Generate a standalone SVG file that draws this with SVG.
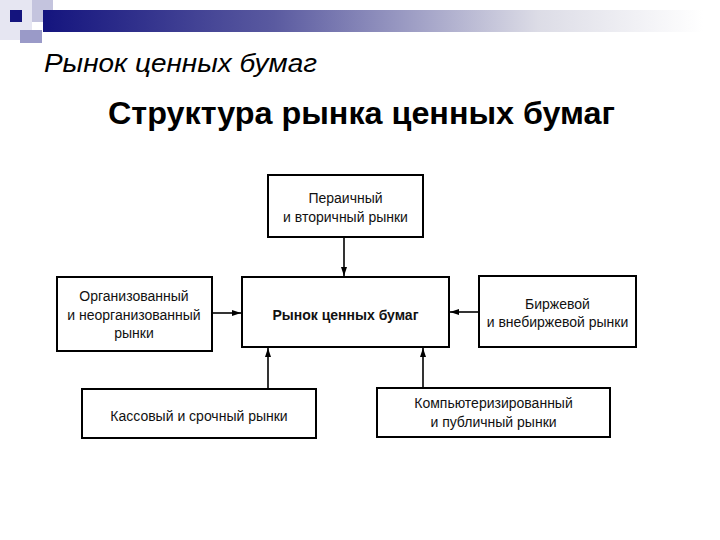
<svg xmlns="http://www.w3.org/2000/svg" width="720" height="540" viewBox="0 0 720 540">
<defs>
<linearGradient id="bar" x1="0" y1="0" x2="1" y2="0">
<stop offset="0" stop-color="#14147e"/>
<stop offset="0.35" stop-color="#5a5aa0"/>
<stop offset="0.75" stop-color="#dcdce6"/>
<stop offset="1" stop-color="#ffffff"/>
</linearGradient>
<marker id="arr" markerWidth="10" markerHeight="8" refX="9" refY="4" orient="auto" markerUnits="userSpaceOnUse">
<path d="M0,1 L9,4 L0,7 Z" fill="#000"/>
</marker>
<style>
.box{fill:#fff;stroke:#000;stroke-width:2}
.t{font-family:"Liberation Sans",Arial,sans-serif;font-size:14px;fill:#111;text-anchor:middle}
.b{font-weight:bold}
.c{stroke:#000;stroke-width:1.6;fill:none;marker-end:url(#arr)}
</style>
</defs>
<rect width="720" height="540" fill="#fff"/>
<g id="header">
<rect x="0" y="0" width="32" height="40" fill="#e6e6f2"/>
<rect x="32" y="0" width="21" height="22" fill="#c4c4de"/>
<rect x="20" y="30" width="22" height="13" fill="#9a9ac8"/>
<rect x="43" y="10" width="660" height="22" fill="url(#bar)"/>
<rect x="10" y="10" width="12" height="12" fill="#14147e"/>
</g>
<text x="44" y="72" font-family="Liberation Sans, Arial, sans-serif" font-size="26" font-style="italic" fill="#000" textLength="273" lengthAdjust="spacingAndGlyphs">Рынок ценных бумаг</text>
<text x="108" y="124" font-family="Liberation Sans, Arial, sans-serif" font-size="31" font-weight="bold" fill="#000" textLength="507" lengthAdjust="spacingAndGlyphs">Структура рынка ценных бумаг</text>
<g id="connectors">
<line class="c" x1="344" y1="237" x2="344" y2="276"/>
<line class="c" x1="212" y1="313" x2="241" y2="313"/>
<line class="c" x1="479" y1="312" x2="450" y2="312"/>
<line class="c" x1="268" y1="389" x2="268" y2="348"/>
<line class="c" x1="423" y1="388" x2="423" y2="348"/>
</g>
<g id="top">
<rect class="box" x="268" y="175" width="155" height="62"/>
<text class="t" x="345.5" y="203">Пераичный</text>
<text class="t" x="345.5" y="222">и вторичный рынки</text>
</g>
<g id="center">
<rect class="box" x="242" y="277" width="207" height="70"/>
<text class="t b" x="345.5" y="320">Рынок ценных бумаг</text>
</g>
<g id="left">
<rect class="box" x="57" y="277" width="155" height="74"/>
<text class="t" x="134" y="301">Организованный</text>
<text class="t" x="134" y="320">и неорганизованный</text>
<text class="t" x="134" y="338">рынки</text>
</g>
<g id="right">
<rect class="box" x="479" y="276" width="157" height="71"/>
<text class="t" x="557.5" y="309">Биржевой</text>
<text class="t" x="557.5" y="327">и внебиржевой рынки</text>
</g>
<g id="bottomleft">
<rect class="box" x="82" y="389" width="234" height="49"/>
<text class="t" x="199" y="421">Кассовый и срочный рынки</text>
</g>
<g id="bottomright">
<rect class="box" x="377" y="388" width="233" height="49"/>
<text class="t" x="493.5" y="408">Компьютеризированный</text>
<text class="t" x="493.5" y="427">и публичный рынки</text>
</g>
</svg>
